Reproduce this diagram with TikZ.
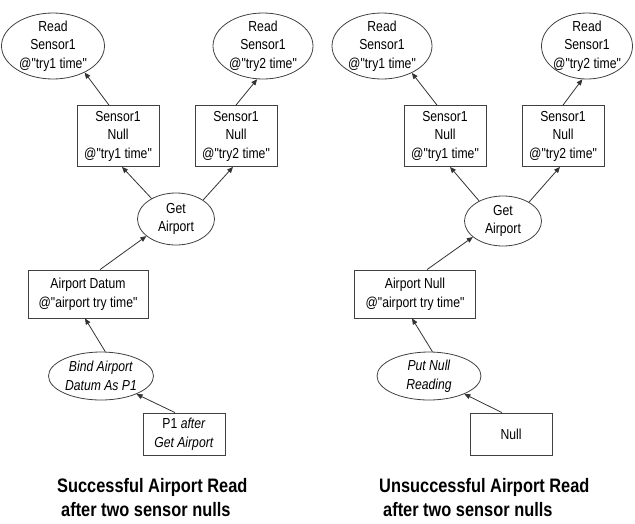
\documentclass[tikz,border=0pt]{standalone}
\usepackage{fontspec}
\setmainfont[FakeStretch=0.84, Ligatures=TeXOff]{Liberation Sans}
\usetikzlibrary{shapes.geometric, arrows.meta}

\begin{document}
\begin{tikzpicture}[x=1pt, y=-1pt,
    proc/.style={draw=black!75, line width=0.8pt, ellipse, inner sep=-12pt, align=center, font=\fontsize{14.5}{18.5}\selectfont},
    datum/.style={draw=black!75, line width=0.8pt, rectangle, inner sep=0pt, align=center, font=\fontsize{14.5}{18.5}\selectfont},
    link/.style={draw=black!80, line width=0.8pt, -{Triangle[length=6pt, width=5pt]}},
    caption/.style={anchor=north west, inner sep=0pt, align=left, font=\bfseries\fontsize{19.5}{24}\selectfont}]
    \useasboundingbox (0,0) rectangle (635,523);

    % successful read
    \node[proc, minimum width=103pt, minimum height=66pt] (rdA) at (53,46) {Read\\Sensor1\\@"try1 time"};
    \node[proc, minimum width=100pt, minimum height=66pt] (rdB) at (263,46) {Read\\Sensor1\\@"try2 time"};
    \node[datum, minimum width=82pt, minimum height=61pt] (snA) at (118,136) {Sensor1\\Null\\@"try1 time"};
    \node[datum, minimum width=82pt, minimum height=61pt] (snB) at (236,136) {Sensor1\\Null\\@"try2 time"};
    \node[proc, minimum width=77pt, minimum height=52pt] (getA) at (176,219) {Get\\Airport};
    \node[datum, minimum width=120pt, minimum height=48pt] (datA) at (88,294) {Airport Datum\\@"airport try time"};
    \node[proc, minimum width=105pt, minimum height=48pt] (bindA) at (101,376) {\textit{Bind Airport}\\\textit{Datum As P1}};
    \node[datum, minimum width=82pt, minimum height=42pt] (pA) at (184,434) {P1 \textit{after}\\\textit{Get Airport}};
    \node[caption] (capA) at (57,478) {Successful Airport Read\\\hspace*{4pt}after two sensor nulls};

    \draw[link] ([xshift=-9pt]snA.north) to (rdA.-40);
    \draw[link] (snB.north) to (rdB.-100);
    \draw[link] (getA.140) to ([xshift=4pt]snA.south);
    \draw[link] (getA.35) to ([xshift=-3pt]snB.south);
    \draw[link] ([xshift=12pt]datA.north) to (getA.-150);
    \draw[link] (bindA.80) to ([xshift=-3pt]datA.south);
    \draw[link] ([xshift=-9pt]pA.north) to (bindA.-27);

    % unsuccessful read
    \node[proc, minimum width=100pt, minimum height=66pt] (rdC) at (382,46) {Read\\Sensor1\\@"try1 time"};
    \node[proc, minimum width=91pt, minimum height=66pt] (rdD) at (587,46) {Read\\Sensor1\\@"try2 time"};
    \node[datum, minimum width=82pt, minimum height=61pt] (snC) at (445,136) {Sensor1\\Null\\@"try1 time"};
    \node[datum, minimum width=82pt, minimum height=61pt] (snD) at (563,136) {Sensor1\\Null\\@"try2 time"};
    \node[proc, minimum width=77pt, minimum height=50pt] (getB) at (503,221) {Get\\Airport};
    \node[datum, minimum width=121pt, minimum height=48pt] (nulB) at (415,294) {Airport Null\\@"airport try time"};
    \node[proc, minimum width=104pt, minimum height=48pt] (putB) at (429,376) {\textit{Put Null}\\\textit{Reading}};
    \node[datum, minimum width=82pt, minimum height=42pt] (nB) at (511,434) {Null};
    \node[caption] (capB) at (379,478) {Unsuccessful Airport Read\\\hspace*{4pt}after two sensor nulls};

    \draw[link] ([xshift=-8pt]snC.north) to (rdC.-42);
    \draw[link] (snD.north) to (rdD.-98);
    \draw[link] (getB.140) to ([xshift=5pt]snC.south);
    \draw[link] (getB.36) to ([xshift=-3pt]snD.south);
    \draw[link] ([xshift=12pt]nulB.north) to (getB.-152);
    \draw[link] (putB.82) to ([xshift=-3pt]nulB.south);
    \draw[link] ([xshift=-9pt]nB.north) to (putB.-27);
\end{tikzpicture}
\end{document}
